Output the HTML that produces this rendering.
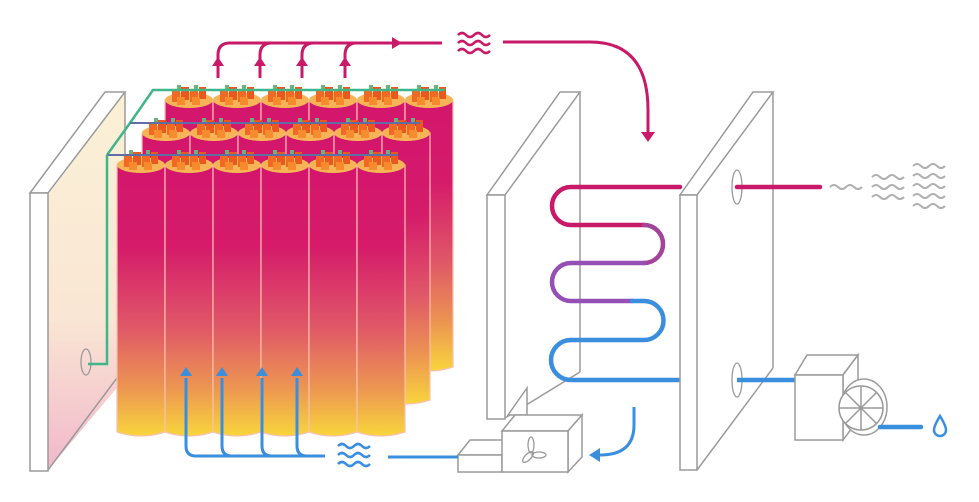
<!DOCTYPE html>
<html><head><meta charset="utf-8"><style>html,body{margin:0;padding:0;background:#fff}svg{display:block}</style></head><body>
<svg width="979" height="502" viewBox="0 0 979 502" xmlns="http://www.w3.org/2000/svg">
<defs>
<linearGradient id="cg" x1="0" y1="0" x2="0" y2="1">
<stop offset="0" stop-color="#d3166c"/><stop offset="0.3" stop-color="#d51b6a"/><stop offset="0.6" stop-color="#e05868"/><stop offset="0.82" stop-color="#ec9552"/><stop offset="1" stop-color="#f8d53c"/>
</linearGradient>
<linearGradient id="pg" x1="0" y1="0" x2="0" y2="1">
<stop offset="0" stop-color="#fbf1d6"/><stop offset="0.6" stop-color="#f9e6d4"/><stop offset="1" stop-color="#f2b8cb"/>
</linearGradient>
<g id="cyl">
<path d="M0 0 H48 V267 Q24 275 0 267 Z" fill="url(#cg)" stroke="#f9c0b0" stroke-width="1.2"/>
<ellipse cx="24" cy="0" rx="24" ry="8" fill="#f7b457"/>
<rect x="7" y="-10" width="8" height="12" fill="#f06a26"/><rect x="16" y="-13" width="8" height="13" fill="#e9581f"/><rect x="25" y="-10" width="8" height="12" fill="#f06a26"/><rect x="34" y="-13" width="7" height="12" fill="#e9581f"/>
<rect x="12" y="-3" width="8" height="8" fill="#f58a2e"/><rect x="27" y="-3" width="8" height="8" fill="#f58a2e"/>
<rect x="12" y="-15" width="4" height="4" fill="#6bb37a"/><rect x="29" y="-15" width="4" height="4" fill="#6bb37a"/>
</g>
</defs>

<!-- left panel -->
<polygon points="48,195 125,92 125,378 48,470" fill="url(#pg)"/>
<polygon points="30,193 105,92 125,92 48,193" fill="#fff" stroke="#9a9a9a" stroke-width="1.5"/>
<rect x="30" y="193" width="18" height="278" fill="#fff" stroke="#9a9a9a" stroke-width="1.5"/>
<line x1="125" y1="92" x2="125" y2="378" stroke="#9a9a9a" stroke-width="1.5"/>
<line x1="48" y1="470" x2="117" y2="378" stroke="#9a9a9a" stroke-width="1.5"/>
<ellipse cx="86" cy="362" rx="5" ry="13" fill="none" stroke="#9a9a9a" stroke-width="1.3"/>

<!-- back row -->
<g transform="translate(165,100)"><use href="#cyl"/><use href="#cyl" x="48"/><use href="#cyl" x="96"/><use href="#cyl" x="144"/><use href="#cyl" x="192"/><use href="#cyl" x="240"/></g>
<polyline points="107,155 130,123 153,90 445,90" fill="none" stroke="#3fb58a" stroke-width="2.5"/>
<g transform="translate(142,133)"><use href="#cyl"/><use href="#cyl" x="48"/><use href="#cyl" x="96"/><use href="#cyl" x="144"/><use href="#cyl" x="192"/><use href="#cyl" x="240"/></g>
<line x1="130" y1="123" x2="420" y2="123" stroke="#5f6fa6" stroke-width="2"/>
<g transform="translate(117,165)"><use href="#cyl"/><use href="#cyl" x="48"/><use href="#cyl" x="96"/><use href="#cyl" x="144"/><use href="#cyl" x="192"/><use href="#cyl" x="240"/></g>
<line x1="107" y1="155" x2="398" y2="155" stroke="#5f6fa6" stroke-width="2"/>
<polyline points="88,364 107,364 107,155" fill="none" stroke="#3fb58a" stroke-width="2.5"/>

<!-- magenta top flow -->
<g stroke="#c81a68" stroke-width="3" fill="none">
<path d="M218 78 V55 Q218 43 230 43 H442"/>
<path d="M260 78 V55 Q260 43 272 43"/>
<path d="M302 78 V55 Q302 43 314 43"/>
<path d="M345 78 V55 Q345 43 357 43"/>
<path d="M503 42 H590 Q648 42 648 110 V132"/>
<path d="M458 35 q4 -4 8 0 t8 0 t8 0 t8 0 M458 43 q4 -4 8 0 t8 0 t8 0 t8 0 M458 51 q4 -4 8 0 t8 0 t8 0 t8 0" stroke-width="2.5"/>
</g>
<g fill="#c81a68">
<polygon points="212,66 218,57 224,66"/><polygon points="254,66 260,57 266,66"/><polygon points="296,66 302,57 308,66"/><polygon points="339,66 345,57 351,66"/>
<polygon points="392,37 402,43 392,49"/><polygon points="641,132 648,142 655,132"/>
</g>

<!-- middle panel 1 -->
<g stroke="#9a9a9a" stroke-width="1.5" fill="#fff">
<polygon points="487,195 560,92 580,92 505,195"/>
<rect x="487" y="195" width="18" height="224"/>
<line x1="580" y1="92" x2="580" y2="372"/>
<line x1="505" y1="418" x2="580" y2="372"/>
</g>

<!-- serpentine -->
<g fill="none" stroke-width="4.5" stroke-linecap="round">
<path d="M680 187 H571 A19 19 0 0 0 571 225 H644" stroke="#c81a68"/>
<path d="M644 225 A19 19 0 0 1 644 263" stroke="#a3449a"/>
<path d="M644 263 H571 A19 19 0 0 0 571 301 H632" stroke="#9450b5"/>
<path d="M632 301 H644 A19.5 19.5 0 0 1 644 340 H571" stroke="#3a8ede"/>
<path d="M571 340 A20 20 0 0 0 571 380 H680" stroke="#3a8ede"/>
</g>

<!-- middle panel 2 -->
<g stroke="#9a9a9a" stroke-width="1.5" fill="#fff">
<polygon points="680,195 753,92 773,92 697,195"/>
<rect x="680" y="195" width="17" height="275"/>
<line x1="773" y1="92" x2="773" y2="368"/>
<line x1="697" y1="470" x2="773" y2="368"/>
</g>
<ellipse cx="737" cy="187" rx="5" ry="17" fill="none" stroke="#9a9a9a" stroke-width="1.3"/>
<ellipse cx="737" cy="380" rx="5" ry="17" fill="none" stroke="#9a9a9a" stroke-width="1.3"/>
<line x1="737" y1="187" x2="820" y2="187" stroke="#c81a68" stroke-width="4.5" stroke-linecap="round"/>
<line x1="737" y1="380" x2="797" y2="380" stroke="#3a8ede" stroke-width="4.5"/>

<!-- grey waves -->
<g fill="none" stroke="#b0b0b0" stroke-width="2">
<path d="M830 187 q4 -4 8 0 t8 0 t8 0 t8 0"/>
<path d="M872 177 q4 -4 8 0 t8 0 t8 0 t8 0 M872 187 q4 -4 8 0 t8 0 t8 0 t8 0 M872 197 q4 -4 8 0 t8 0 t8 0 t8 0"/>
<path d="M913 166 q4 -4 8 0 t8 0 t8 0 t8 0 M913 176 q4 -4 8 0 t8 0 t8 0 t8 0 M913 186 q4 -4 8 0 t8 0 t8 0 t8 0 M913 196 q4 -4 8 0 t8 0 t8 0 t8 0 M913 206 q4 -4 8 0 t8 0 t8 0 t8 0"/>
</g>

<!-- right box + fan -->
<g stroke="#9a9a9a" stroke-width="1.5" fill="#fff">
<polygon points="795,375 807,355 858,355 843,375"/>
<polygon points="843,375 858,355 858,420 843,440"/>
<rect x="795" y="375" width="48" height="65"/>
<ellipse cx="864" cy="407" rx="23" ry="28"/>
<circle cx="861" cy="408" r="22"/>
<path d="M861 386 V430 M839 408 H883 M845 392 L877 424 M845 424 L877 392" fill="none"/>
</g>
<line x1="880" y1="427" x2="921" y2="427" stroke="#3a8ede" stroke-width="4.5" stroke-linecap="round"/>
<path d="M940 416 Q934 426 934 430 A6 6 0 0 0 946 430 Q946 426 940 416 Z" fill="none" stroke="#3a8ede" stroke-width="2.5"/>

<!-- bottom boxes -->
<g stroke="#9a9a9a" stroke-width="1.5" fill="#fff">
<polygon points="508,415 527,388 527,415"/>
<polygon points="458,455 470,440 510,440 502,455"/>
<rect x="458" y="455" width="44" height="17"/>
<polygon points="502,431 515,415 582,415 568,431"/>
<polygon points="568,431 582,415 582,457 568,472"/>
<rect x="502" y="431" width="66" height="41"/>
</g>
<g fill="none" stroke="#9a9a9a" stroke-width="1.3">
<ellipse cx="531" cy="445" rx="3" ry="8"/>
<ellipse cx="539" cy="455" rx="7" ry="3"/>
<ellipse cx="528" cy="457" rx="3" ry="7" transform="rotate(45 528 457)"/>
</g>

<!-- blue bottom flow -->
<g stroke="#3a8ede" stroke-width="3" fill="none">
<path d="M186 378 V446 Q186 456 196 456 H325"/>
<path d="M222 378 V446 Q222 456 232 456"/>
<path d="M262 378 V446 Q262 456 272 456"/>
<path d="M297 378 V446 Q297 456 307 456"/>
<path d="M388 457 H458"/>
<path d="M634 407 V425 Q634 455 600 455"/>
<path d="M338 446 q4 -4 8 0 t8 0 t8 0 t8 0 M338 455 q4 -4 8 0 t8 0 t8 0 t8 0 M338 464 q4 -4 8 0 t8 0 t8 0 t8 0" stroke-width="2.5"/>
</g>
<g fill="#3a8ede">
<polygon points="180,376 186,367 192,376"/><polygon points="216,376 222,367 228,376"/><polygon points="256,376 262,367 268,376"/><polygon points="291,376 297,367 303,376"/>
<polygon points="600,448 589,455 600,462"/>
</g>
</svg>
</body></html>
